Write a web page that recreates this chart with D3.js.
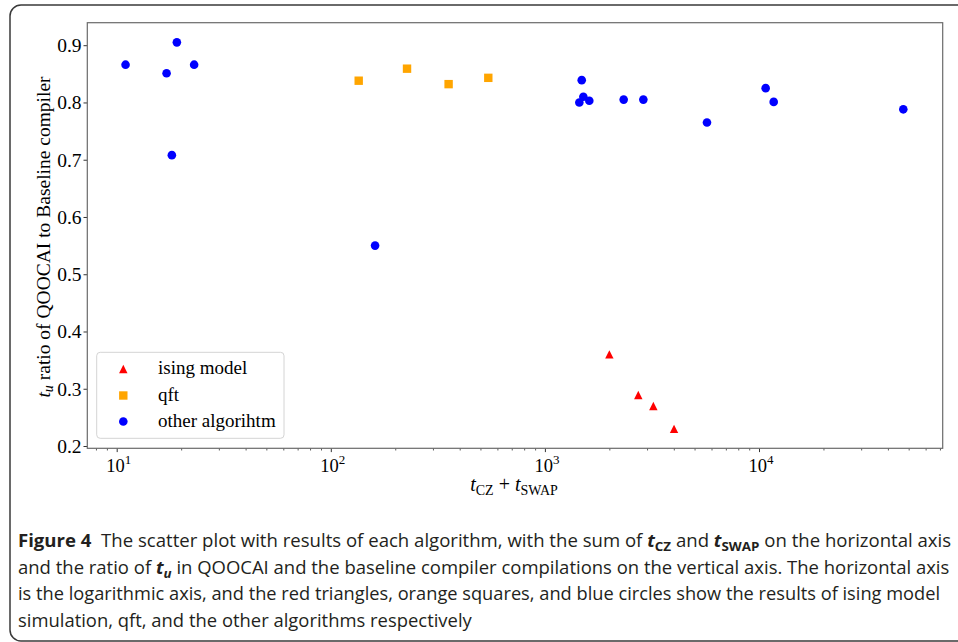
<!DOCTYPE html>
<html><head><meta charset="utf-8">
<script src="https://cdn.jsdelivr.net/npm/d3@7"></script>
<style>body{margin:0;background:#fff;overflow:hidden}</style>
</head><body>
<svg id="chart" width="958" height="642" xmlns="http://www.w3.org/2000/svg"></svg>
<script>
// ---- data ----
const isingX = [2000, 2730, 3210, 4010];
const isingY = [0.360, 0.289, 0.270, 0.230];
const qftX = [135, 227, 355, 544];
const qftY = [0.838, 0.859, 0.832, 0.843];
const otherX = [11.0, 17.1, 19.1, 23.0, 18.1, 161, 1486, 1512, 1448, 1612, 2333, 2883, 5715, 10740, 11710, 47200];
const otherY = [0.866, 0.851, 0.905, 0.866, 0.708, 0.550, 0.839, 0.810, 0.800, 0.803, 0.805, 0.805, 0.765, 0.825, 0.801, 0.788];
const xMajorTicks = [10, 100, 1000, 10000];
const xTickExponents = ["1", "2", "3", "4"];
const yTicks = [0.2, 0.3, 0.4, 0.5, 0.6, 0.7, 0.8, 0.9];
const legendLabels = ["ising model", "qft", "other algorihtm"];

// ---- layout ----
const svg = d3.select("#chart");
const L = 87.3, R = 942.7, T = 22.7, B = 448.3;
const x = d3.scaleLog().domain([7.29, 72100]).range([L, R]);
const y = d3.scaleLinear().domain([0.196, 0.9393]).range([B, T]);
const serif = "'Liberation Serif', 'Times New Roman', serif";
const red = "#ff0000", orange = "#ffa500", blue = "#0000ff";

// outer rounded frame
svg.append("rect").attr("x", 10).attr("y", 5).attr("width", 990).attr("height", 636)
  .attr("rx", 11).attr("fill", "none").attr("stroke", "#3a3a3a").attr("stroke-width", 1.5);

// minor ticks x
const minor = [];
for (let d = 1; d <= 10000; d *= 10) for (let k = 2; k <= 9; k++) {
  const v = d * k; if (v > 7.29 && v < 72100) minor.push(v);
}
svg.append("g").attr("transform", `translate(0,${B})`)
  .call(d3.axisBottom(x).tickValues(minor).tickSize(2.2).tickFormat(""))
  .call(g => g.select(".domain").remove())
  .call(g => g.selectAll("line").attr("stroke", "#333").attr("stroke-width", 0.8));
// major ticks x
svg.append("g").attr("transform", `translate(0,${B})`)
  .call(d3.axisBottom(x).tickValues(xMajorTicks).tickSize(3.8).tickFormat(""))
  .call(g => g.select(".domain").remove())
  .call(g => g.selectAll("line").attr("stroke", "#333").attr("stroke-width", 1));
xMajorTicks.forEach((v, i) => {
  const t = svg.append("text").attr("x", x(v) + 2).attr("y", 472)
    .attr("text-anchor", "middle").attr("font-family", serif).attr("font-size", 18.5).attr("fill", "#000");
  t.append("tspan").text("10");
  t.append("tspan").attr("dy", -8.5).attr("font-size", 13).text(xTickExponents[i]);
});

// y ticks
svg.append("g").attr("transform", `translate(${L},0)`)
  .call(d3.axisLeft(y).tickValues(yTicks).tickSize(3.8).tickFormat(d3.format(".1f")).tickPadding(2))
  .call(g => g.select(".domain").remove())
  .call(g => g.selectAll("line").attr("stroke", "#333").attr("stroke-width", 1))
  .call(g => g.selectAll("text").attr("font-family", serif).attr("font-size", 19.5).attr("fill", "#000").attr("dy", "0.33em"));

// axes frame
svg.append("rect").attr("x", L).attr("y", T).attr("width", R - L).attr("height", B - T)
  .attr("fill", "none").attr("stroke", "#6a6a6a").attr("stroke-width", 1.2);

// markers
const triPath = (s) => `M0,${-s}L${s},${s}L${-s},${s}Z`;
const other = otherX.map((v, i) => ({x: v, y: otherY[i]}));
const qft = qftX.map((v, i) => ({x: v, y: qftY[i]}));
const ising = isingX.map((v, i) => ({x: v, y: isingY[i]}));

svg.append("g").selectAll("path").data(ising).join("path")
  .attr("d", triPath(4.2)).attr("fill", red)
  .attr("transform", d => `translate(${x(d.x)},${y(d.y)})`);
svg.append("g").selectAll("rect").data(qft).join("rect")
  .attr("x", d => x(d.x) - 4.2).attr("y", d => y(d.y) - 4.2).attr("width", 8.4).attr("height", 8.4).attr("fill", orange);
svg.append("g").selectAll("circle").data(other).join("circle")
  .attr("cx", d => x(d.x)).attr("cy", d => y(d.y)).attr("r", 4.3).attr("fill", blue);

// legend
const lg = svg.append("g");
lg.append("rect").attr("x", 96.7).attr("y", 352.3).attr("width", 187.3).attr("height", 86)
  .attr("rx", 3.5).attr("fill", "#fff").attr("fill-opacity", 0.8).attr("stroke", "#d4d4d4").attr("stroke-width", 1);
const rowsY = [369, 395.5, 421.5];
lg.append("path").attr("d", triPath(4.2)).attr("fill", red).attr("transform", `translate(123.3,${rowsY[0]})`);
lg.append("rect").attr("x", 123.3 - 4.2).attr("y", rowsY[1] - 4.2).attr("width", 8.4).attr("height", 8.4).attr("fill", orange);
lg.append("circle").attr("cx", 123.3).attr("cy", rowsY[2]).attr("r", 4.3).attr("fill", blue);
legendLabels.forEach((s, i) => {
  lg.append("text").attr("x", 158).attr("y", rowsY[i] - 1).attr("dy", "0.33em")
    .attr("font-family", serif).attr("font-size", 19).attr("fill", "#000").text(s);
});

// x label
const xl = svg.append("text").attr("x", 514).attr("y", 491).attr("text-anchor", "middle")
  .attr("font-family", serif).attr("font-size", 20).attr("fill", "#000");
xl.append("tspan").attr("font-style", "italic").text("t");
xl.append("tspan").attr("dy", 3.5).attr("font-size", 14).text("CZ");
xl.append("tspan").attr("dy", -3.5).text(" + ");
xl.append("tspan").attr("font-style", "italic").text("t");
xl.append("tspan").attr("dy", 3.5).attr("font-size", 14).text("SWAP");

// y label
const yl = svg.append("text").attr("transform", "translate(49.5,237) rotate(-90)").attr("text-anchor", "middle")
  .attr("font-family", serif).attr("font-size", 19.5).attr("fill", "#000");
yl.append("tspan").attr("font-style", "italic").text("t");
yl.append("tspan").attr("dy", 3.5).attr("font-style", "italic").attr("font-size", 14).text("u");
yl.append("tspan").attr("dy", -3.5).text(" ratio of QOOCAI to Baseline compiler");

// caption
const sans = "'Open Sans', 'Noto Sans', sans-serif";
const capLines = [
  {y: 547, w: 934, parts: [["Figure 4", "b"], ["  The scatter plot with results of each algorithm, with the sum of ", ""], ["t", "bi"], ["CZ", "bsub"], [" and ", "r"], ["t", "bi"], ["SWAP", "bsub"], [" on the horizontal axis", "r"]]},
  {y: 573.5, w: 932, parts: [["and the ratio of ", ""], ["t", "bi"], ["u", "bisub"], [" in QOOCAI and the baseline compiler compilations on the vertical axis. The horizontal axis", "r"]]},
  {y: 600, w: 923, parts: [["is the logarithmic axis, and the red triangles, orange squares, and blue circles show the results of ising model", ""]]},
  {y: 626.5, w: 454, parts: [["simulation, qft, and the other algorithms respectively", ""]]}
];
capLines.forEach(line => {
  const t = svg.append("text").attr("x", 0).attr("y", 0).attr("font-family", sans).attr("font-size", 18).attr("fill", "#231f20")
    .attr("xml:space", "preserve").style("white-space", "pre");
  let shifted = false;
  line.parts.forEach(([s, st]) => {
    const sp = t.append("tspan").text(s);
    if (st.includes("b")) sp.attr("font-weight", "bold");
    if (st.includes("i")) sp.attr("font-style", "italic");
    if (st.includes("sub")) { sp.attr("dy", 4).attr("font-size", 13); shifted = true; }
    else if (shifted) { sp.attr("dy", -4); shifted = false; }
  });
  const w = t.node().getComputedTextLength();
  t.attr("transform", `translate(18,${line.y}) scale(${line.w / w},1)`);
});
</script>
</body></html>
